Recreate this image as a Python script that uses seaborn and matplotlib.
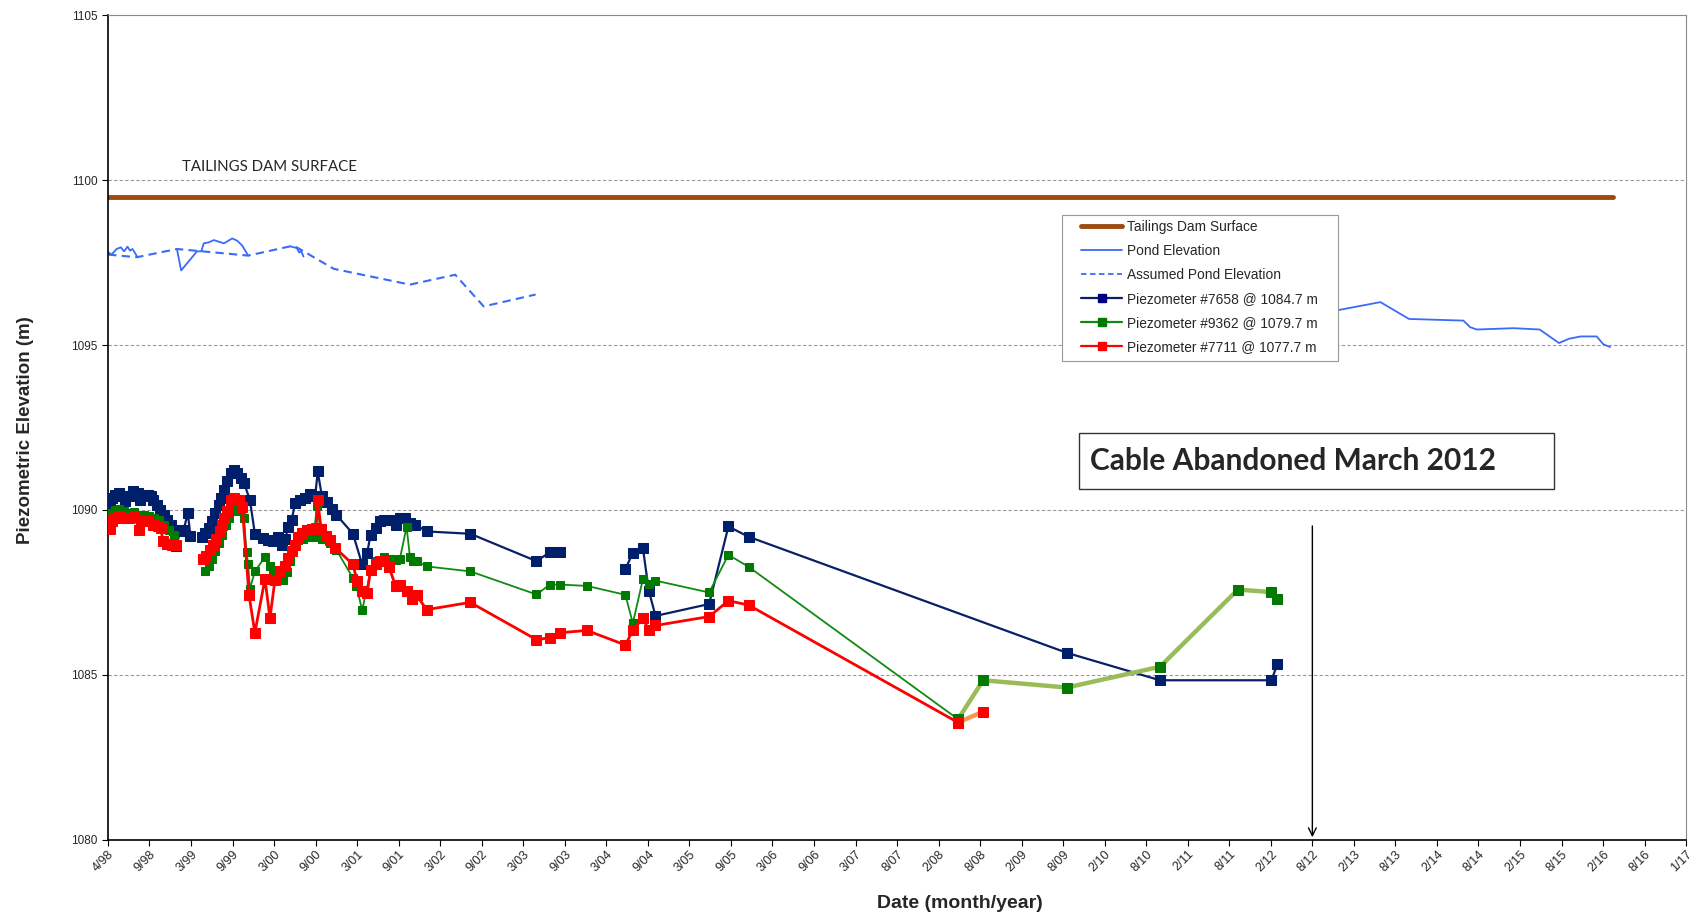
import numpy as np
import pandas as pd
import matplotlib.pyplot as plt
import matplotlib.patches as patches
from matplotlib.lines import Line2D
import seaborn as sns

sns.set_style("white")
plt.rcParams["font.family"] = ["Liberation Sans", "DejaVu Sans"]

# ---------- data (dates as decimal years, NaN = gap in the record) ----------
tick_labels = ["4/98", "9/98", "3/99", "9/99", "3/00", "9/00", "3/01", "9/01", "3/02", "9/02",
               "3/03", "9/03", "3/04", "9/04", "3/05", "9/05", "3/06", "9/06", "3/07", "8/07",
               "2/08", "8/08", "2/09", "8/09", "2/10", "8/10", "2/11", "8/11", "2/12", "8/12",
               "2/13", "8/13", "2/14", "8/14", "2/15", "8/15", "2/16", "8/16", "1/17"]

dam_year = [1998.25, 2016.20]
dam_elev = [1099.5, 1099.5]

pond_year = [1998.25, 1998.29, 1998.35, 1998.40, 1998.44, 1998.48, 1998.51, 1998.54, 1998.60, np.nan,
             1999.07, 1999.12, 1999.31, 1999.36, 1999.39, 1999.45, 1999.51, 1999.57, 1999.63, 1999.73,
             1999.79, 1999.85, 1999.92, np.nan,
             2000.42, 2000.50, 2000.53, 2000.55, 2000.58, np.nan,
             2012.40, 2012.93, 2013.43, 2013.77, 2014.42, 2014.50, 2014.58, 2015.02, 2015.33, 2015.56,
             2015.68, 2015.82, 2016.01, 2016.09, 2016.17]
pond_elev = [1097.81, 1097.74, 1097.91, 1097.96, 1097.84, 1097.98, 1097.86, 1097.91, 1097.66, np.nan,
             1097.91, 1097.26, 1097.84, 1097.84, 1098.08, 1098.11, 1098.18, 1098.13, 1098.08, 1098.23,
             1098.16, 1098.01, 1097.71, np.nan,
             1097.99, 1097.94, 1097.80, 1097.86, 1097.68, np.nan,
             1095.85, 1096.06, 1096.30, 1095.79, 1095.74, 1095.54, 1095.47, 1095.51, 1095.47, 1095.06,
             1095.19, 1095.26, 1095.26, 1095.02, 1094.94]

assumed_year = [1998.25, 1998.59, 1999.07, 1999.92, 2000.42, 2000.50, 2000.94, 2001.85, 2002.39,
                2002.73, 2003.35]
assumed_elev = [1097.74, 1097.66, 1097.91, 1097.71, 1097.99, 1097.96, 1097.31, 1096.83, 1097.13,
                1096.17, 1096.53]

p7658_year = [1998.27, 1998.29, 1998.33, 1998.38, 1998.42, 1998.45, 1998.51, 1998.55, 1998.60, 1998.63,
              1998.67, 1998.72, 1998.76, 1998.79, 1998.83, 1998.87, 1998.91, 1998.95, 1999.00, 1999.04,
              1999.06, 1999.11, 1999.15, 1999.20, 1999.23, np.nan,
              1999.37, 1999.41, 1999.45, 1999.49, 1999.53, 1999.57, 1999.59, 1999.63, 1999.67, 1999.71,
              1999.75, 1999.79, 1999.83, 1999.87, 1999.94, 2000.00, 2000.10, 2000.16, 2000.22, 2000.28,
              2000.32, 2000.36, 2000.40, 2000.44, 2000.48, 2000.54, 2000.60, 2000.66, 2000.72, 2000.75,
              2000.80, 2000.86, 2000.92, 2000.97, 2001.17, 2001.28, 2001.34, 2001.38, 2001.44, 2001.49,
              2001.54, 2001.60, 2001.68, 2001.73, 2001.79, 2001.85, 2001.91, 2002.05, 2002.57, 2003.36,
              2003.52, 2003.64, np.nan,
              2004.42, 2004.51, 2004.63, 2004.70, 2004.78, 2005.42, 2005.65, 2005.89, 2009.69, 2010.80,
              2012.13, 2012.20]
p7658_elev = [1090.11, 1090.36, 1090.46, 1090.51, 1090.41, 1090.26, 1090.41, 1090.57, 1090.51, 1090.31,
              1090.46, 1090.46, 1090.41, 1090.31, 1090.16, 1090.01, 1089.86, 1089.71, 1089.56, 1089.40,
              1088.90, 1089.35, 1089.40, 1089.91, 1089.22, np.nan,
              1089.18, 1089.30, 1089.46, 1089.66, 1089.91, 1090.16, 1090.36, 1090.62, 1090.87, 1091.12,
              1091.20, 1091.12, 1090.97, 1090.82, 1090.31, 1089.28, 1089.15, 1089.10, 1089.05, 1089.18,
              1088.95, 1089.12, 1089.49, 1089.71, 1090.21, 1090.29, 1090.36, 1090.49, 1090.43, 1091.17,
              1090.41, 1090.23, 1090.03, 1089.86, 1089.28, 1088.35, 1088.70, 1089.25, 1089.46, 1089.66,
              1089.71, 1089.69, 1089.56, 1089.76, 1089.76, 1089.61, 1089.56, 1089.35, 1089.28, 1088.45,
              1088.72, 1088.72, np.nan,
              1088.20, 1088.71, 1088.84, 1087.56, 1086.79, 1087.15, 1089.50, 1089.19, 1085.67, 1084.84,
              1084.84, 1085.33]

p9362_year = [1998.26, 1998.28, 1998.33, 1998.38, 1998.44, 1998.50, 1998.56, 1998.62, 1998.68, 1998.74,
              1998.80, 1998.86, 1998.92, 1998.97, 1999.03, np.nan,
              1999.41, 1999.45, 1999.49, 1999.53, 1999.57, 1999.61, 1999.65, 1999.69, 1999.73, 1999.77,
              1999.83, 1999.87, 1999.90, 1999.92, 1999.94, 2000.00, 2000.12, 2000.18, 2000.22, 2000.33,
              2000.38, 2000.42, 2000.46, 2000.51, 2000.58, 2000.64, 2000.70, 2000.74, 2000.80, 2000.90,
              2000.97, 2001.17, 2001.21, 2001.28, 2001.38, 2001.46, 2001.54, 2001.62, 2001.68, 2001.73,
              2001.81, 2001.85, 2001.89, 2001.93, 2002.05, 2002.57, 2003.36, 2003.52, 2003.64, 2003.96,
              2004.42, 2004.51, 2004.63, 2004.70, 2004.78, 2005.42, 2005.65, 2005.89, 2008.39]
p9362_elev = [1089.66, 1089.91, 1090.01, 1090.03, 1089.96, 1089.91, 1089.93, 1089.86, 1089.86, 1089.81,
              1089.76, 1089.71, 1089.56, 1089.40, 1089.25, np.nan,
              1088.14, 1088.29, 1088.50, 1088.75, 1089.00, 1089.25, 1089.56, 1089.76, 1089.96, 1090.06,
              1089.96, 1089.76, 1088.72, 1088.35, 1087.61, 1088.14, 1088.58, 1088.29, 1088.07, 1087.87,
              1088.11, 1088.45, 1088.75, 1089.08, 1089.12, 1089.18, 1089.18, 1090.11, 1089.12, 1089.00,
              1088.80, 1087.94, 1087.71, 1086.96, 1088.14, 1088.45, 1088.58, 1088.50, 1088.48, 1088.52,
              1089.49, 1088.58, 1088.45, 1088.45, 1088.29, 1088.14, 1087.44, 1087.74, 1087.74, 1087.70,
              1087.43, 1086.57, 1087.91, 1087.76, 1087.86, 1087.50, 1088.64, 1088.28, 1083.66]

p7711_year = [1998.27, 1998.29, 1998.33, 1998.38, 1998.44, 1998.50, 1998.56, 1998.62, 1998.66, 1998.72,
              1998.78, 1998.84, 1998.88, 1998.90, 1998.95, 1999.01, 1999.06, np.nan,
              1999.38, 1999.42, 1999.46, 1999.50, 1999.54, 1999.58, 1999.61, 1999.63, 1999.67, 1999.71,
              1999.75, 1999.81, 1999.85, 1999.93, 2000.00, 2000.12, 2000.18, 2000.24, 2000.30, 2000.36,
              2000.40, 2000.44, 2000.48, 2000.51, 2000.56, 2000.62, 2000.68, 2000.73, 2000.75, 2000.79,
              2000.85, 2000.90, 2000.96, 2001.17, 2001.22, 2001.28, 2001.34, 2001.38, 2001.44, 2001.49,
              2001.54, 2001.60, 2001.68, 2001.73, 2001.81, 2001.87, 2001.93, 2002.05, 2002.57, 2003.36,
              2003.52, 2003.64, 2003.96, 2004.42, 2004.51, 2004.63, 2004.70, 2004.78, 2005.42, 2005.65,
              2005.89, 2008.39]
p7711_elev = [1089.43, 1089.66, 1089.76, 1089.81, 1089.76, 1089.76, 1089.81, 1089.40, 1089.66, 1089.66,
              1089.56, 1089.51, 1089.46, 1089.05, 1088.98, 1088.95, 1088.95, np.nan,
              1088.50, 1088.62, 1088.80, 1088.95, 1089.12, 1089.35, 1089.56, 1089.76, 1089.96, 1090.31,
              1090.36, 1090.31, 1090.09, 1087.42, 1086.28, 1087.91, 1086.73, 1087.89, 1088.14, 1088.29,
              1088.55, 1088.75, 1088.95, 1089.18, 1089.30, 1089.38, 1089.42, 1089.46, 1090.29, 1089.42,
              1089.22, 1089.10, 1088.85, 1088.35, 1087.84, 1087.54, 1087.49, 1088.19, 1088.35, 1088.45,
              1088.45, 1088.27, 1087.69, 1087.74, 1087.54, 1087.29, 1087.41, 1086.98, 1087.20, 1086.07,
              1086.13, 1086.28, 1086.35, 1085.91, 1086.35, 1086.73, 1086.35, 1086.50, 1086.77, 1087.25,
              1087.12, 1083.56]

# later readings drawn in their own colours
late9362_year = [2008.39, 2008.69, 2009.69, 2010.80, 2011.73, 2012.13, 2012.20]
late9362_elev = [1083.66, 1084.84, 1084.62, 1085.25, 1087.59, 1087.51, 1087.30]
late7711_year = [2008.39, 2008.69]
late7711_elev = [1083.56, 1083.89]


def segments(years, elev):
    d = pd.DataFrame({"year": years, "elev": elev})
    d["seg"] = d["elev"].isna().cumsum()
    return d.dropna()


fig = plt.figure(figsize=(16.97, 9.17), dpi=100)
ax = fig.add_axes([0.0636, 0.084, 0.93, 0.8996])

ax.grid(False)
for yv in [1085, 1090, 1095, 1100]:
    ax.axhline(yv, color="#9a9a9a", linestyle=(0, (3, 2)), linewidth=0.8, zorder=0)

sns.lineplot(data=pd.DataFrame({"year": dam_year, "elev": dam_elev}), x="year", y="elev",
             color="#9C4A10", linewidth=3.5, ax=ax, zorder=2)
sns.lineplot(data=segments(pond_year, pond_elev), x="year", y="elev", units="seg", estimator=None,
             sort=False, color="#3A6BF5", linewidth=1.3, ax=ax, zorder=2)
sns.lineplot(data=pd.DataFrame({"year": assumed_year, "elev": assumed_elev}), x="year", y="elev",
             sort=False, color="#3A6BF5", linewidth=1.5, linestyle=(0, (4, 2.5)), ax=ax, zorder=2)

series = [
    (p7658_year, p7658_elev, "#0B1F66", "#001F6B", 1.6, 7),
    (p9362_year, p9362_elev, "#118A11", "#007A00", 1.3, 6),
    (p7711_year, p7711_elev, "#FF0000", "#FF0000", 2.0, 6.5),
]
for yrs, vals, lc, mc, lw, ms in series:
    sns.lineplot(data=segments(yrs, vals), x="year", y="elev", units="seg", estimator=None,
                 sort=False, color=lc, linewidth=lw, marker="s", markersize=ms,
                 markerfacecolor=mc, markeredgecolor=mc, ax=ax, zorder=3)

sns.lineplot(data=pd.DataFrame({"year": late9362_year, "elev": late9362_elev}), x="year", y="elev",
             sort=False, color="#9BBB59", linewidth=3.2, marker="s", markersize=7,
             markerfacecolor="#007A00", markeredgecolor="#007A00", ax=ax, zorder=3)
sns.lineplot(data=pd.DataFrame({"year": late7711_year, "elev": late7711_elev}), x="year", y="elev",
             sort=False, color="#F79646", linewidth=3.2, marker="s", markersize=7,
             markerfacecolor="#FF0000", markeredgecolor="#FF0000", ax=ax, zorder=3)

# axes
x0 = 1998 + 90 / 365
step = 181 / 365.25
ticks = [x0 + k * step for k in range(len(tick_labels))]
ax.set_xlim(ticks[0], ticks[-1])
ax.set_ylim(1080, 1105)
ax.set_xticks(ticks)
ax.set_xticklabels(tick_labels, rotation=45, ha="right", rotation_mode="anchor", fontsize=9)
ax.set_yticks(range(1080, 1106, 5))
ax.set_yticklabels([str(v) for v in range(1080, 1106, 5)], fontsize=8.5)
ax.tick_params(axis="both", which="major", direction="out", length=4, width=0.8, color="black",
               bottom=True, left=True)
ax.tick_params(axis="x", pad=2)

for side in ["left", "bottom"]:
    ax.spines[side].set_color("black")
    ax.spines[side].set_linewidth(1.2)
for side in ["top", "right"]:
    ax.spines[side].set_color("#8a8a8a")
    ax.spines[side].set_linewidth(0.8)

ax.set_xlabel("Date (month/year)", fontsize=14, fontweight="bold")
ax.set_ylabel("Piezometric Elevation (m)", fontsize=13.5, fontweight="bold")
ax.xaxis.set_label_coords(0.54, -0.067)
ax.yaxis.set_label_coords(-0.047, 0.497)

# annotations
ax.text(0.047, 1100.4, "TAILINGS DAM SURFACE", transform=ax.get_yaxis_transform(),
        fontsize=10.8, family=["Lato", "DejaVu Sans"], va="center", ha="left")

ax.add_patch(patches.Rectangle((0.6153, 0.4255), 0.301, 0.0678, transform=ax.transAxes,
                               facecolor="white", edgecolor="#333333", linewidth=1.0, zorder=5))
ax.text(0.6225, 0.459, "Cable Abandoned March 2012", transform=ax.transAxes, fontsize=21.5,
        fontweight="bold", family=["Lato", "DejaVu Sans"], va="center", ha="left", zorder=6)

ax.annotate("", xy=(ticks[29], 1080), xytext=(ticks[29], 1089.6),
            arrowprops=dict(arrowstyle="->", color="black", lw=1.0, mutation_scale=14), zorder=6)

# legend: frame drawn as its own box, entries placed inside it
ax.add_patch(patches.Rectangle((0.6046, 0.5806), 0.1749, 0.177, transform=ax.transAxes,
                               facecolor="white", edgecolor="#999999", linewidth=0.8, zorder=7))
handles = [
    Line2D([], [], color="#9C4A10", linewidth=3.5),
    Line2D([], [], color="#3A6BF5", linewidth=1.3),
    Line2D([], [], color="#3A6BF5", linewidth=1.3, linestyle=(0, (3, 2))),
    Line2D([], [], color="#0B1F66", linewidth=1.6, marker="s", markersize=6,
           markerfacecolor="#000080", markeredgecolor="#000080"),
    Line2D([], [], color="#118A11", linewidth=1.6, marker="s", markersize=6,
           markerfacecolor="#007A00", markeredgecolor="#007A00"),
    Line2D([], [], color="#FF0000", linewidth=1.6, marker="s", markersize=6,
           markerfacecolor="#FF0000", markeredgecolor="#FF0000"),
]
labels = ["Tailings Dam Surface", "Pond Elevation", "Assumed Pond Elevation",
          "Piezometer #7658 @ 1084.7 m", "Piezometer #9362 @ 1079.7 m", "Piezometer #7711 @ 1077.7 m"]
leg = ax.legend(handles, labels, loc="upper left", bbox_to_anchor=(0.6166, 0.7520), fontsize=9.9,
                frameon=False, labelspacing=0.73, handlelength=3.0, handletextpad=0.35,
                borderpad=0, borderaxespad=0)
leg.set_zorder(8)

fig.savefig("out.png", dpi=100)
